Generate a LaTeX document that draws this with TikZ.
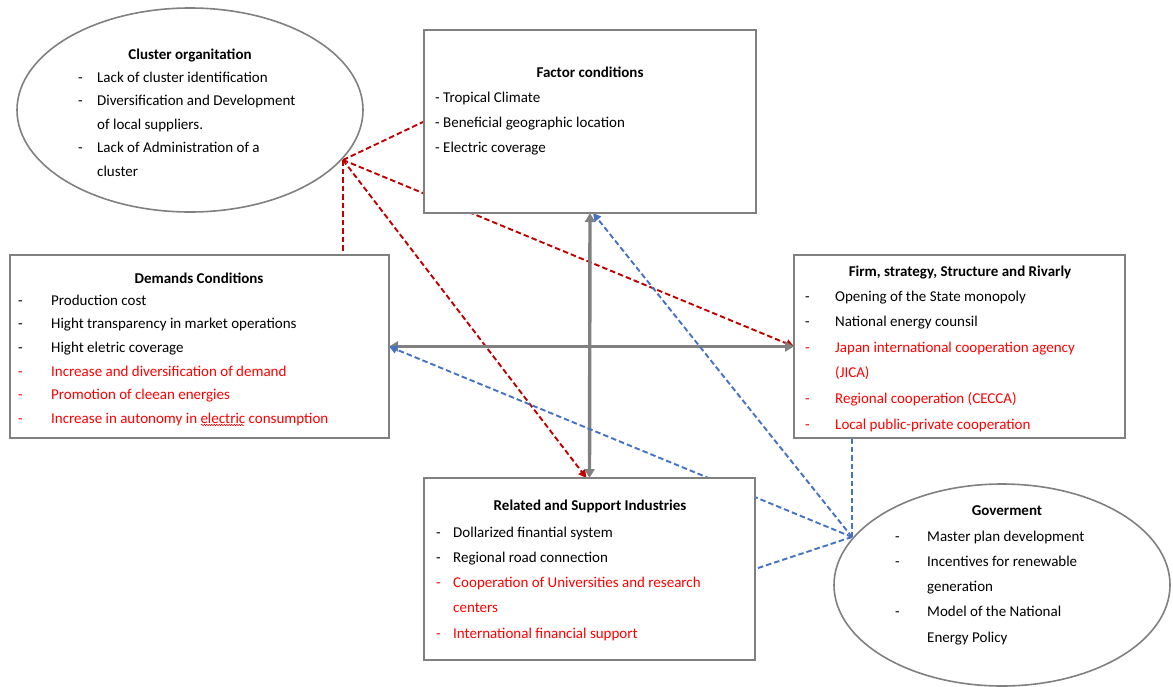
\documentclass[tikz,border=0pt]{standalone}
\usepackage{fontspec}
\setmainfont{Carlito}
\usetikzlibrary{arrows.meta,shapes.geometric,backgrounds,decorations.pathmorphing}
\definecolor{boxgray}{RGB}{128,128,128}
\definecolor{lred}{RGB}{192,0,0}
\definecolor{tred}{RGB}{255,0,0}
\definecolor{lblue}{RGB}{68,114,196}
\newcommand{\rtx}[1]{\textcolor{tred}{#1}}
\tikzset{
  box/.style={draw=boxgray, line width=1.9pt, fill=white, rectangle, inner sep=0pt, outer sep=0pt},
  oval/.style={draw=boxgray, line width=1.6pt, fill=white, ellipse, inner sep=0pt, outer sep=0pt},
  ttl/.style={font=\fontsize{15}{18}\selectfont\bfseries, inner sep=0pt, anchor=base},
  lst/.style={anchor=north west, inner sep=0pt, align=left},
  redcon/.style={draw=lred, line width=1.9pt, dash pattern=on 5.5pt off 3pt},
  bluecon/.style={draw=lblue, line width=1.9pt, dash pattern=on 5.5pt off 3pt},
  graycon/.style={draw=boxgray, line width=3.4pt, {Triangle[width=10pt,length=9pt]}-{Triangle[width=10pt,length=9pt]}},
}
\begin{document}
\begin{tikzpicture}[x=1pt,y=-1pt]
\useasboundingbox (0,0) rectangle (1173,686);

% shapes
\node[oval, minimum width=346pt, minimum height=204pt] (clu) at (190,110) {};
\node[oval, minimum width=336pt, minimum height=202pt] (gov) at (1002,585) {};
\node[box, minimum width=332pt, minimum height=183pt] (fac) at (590,121.5) {};
\node[box, minimum width=379pt, minimum height=183pt] (dem) at (199.5,346.5) {};
\node[box, minimum width=331pt, minimum height=183pt] (firm) at (959.5,346.5) {};
\node[box, minimum width=331pt, minimum height=182pt] (rel) at (589.5,569) {};

\coordinate (cp) at (343,160);
\coordinate (gp) at (852,537);

% connectors
\begin{pgfonlayer}{background}
  \draw[redcon] (cp) -- (fac.west);
  \draw[redcon] (cp) -- (cp |- dem.north);
  \draw[redcon, -{Triangle[width=8pt,length=8pt]}] (cp) -- (firm.west);
  \draw[redcon, -{Triangle[width=8pt,length=8pt]}] (cp) -- ([xshift=-3pt]rel.north);
  \draw[graycon] (dem.east) -- (firm.west);
  \draw[graycon] (fac.south) -- (rel.north);
  \draw[bluecon, -{Triangle[width=8pt,length=8pt]}] (gp) -- ([xshift=3pt]fac.south);
  \draw[bluecon, -{Triangle[width=8pt,length=8pt]}] (gp) -- (dem.east);
  \draw[bluecon] (gp) -- (rel.east);
  \draw[bluecon] (gp) -- (gp |- firm.south);
\end{pgfonlayer}

% Cluster organitation
\node[ttl] (cluT) at (190,59) {Cluster organitation};
\node[lst, font=\fontsize{15}{23.5}\selectfont] (cluL) at (78,65.5) {%
\begin{tabular}{@{}p{19pt}@{}l@{}}
- & Lack of cluster identification\\
- & Diversification and Development\\
  & of local suppliers.\\
- & Lack of Administration of a\\
  & cluster
\end{tabular}};

% Factor conditions
\node[ttl] (facT) at (590,77) {Factor conditions};
\node[lst, font=\fontsize{15}{25}\selectfont] (facL) at (435,84.5) {%
\begin{tabular}{@{}l@{}}
- Tropical Climate\\
- Beneficial geographic location\\
- Electric coverage
\end{tabular}};

% Demands conditions
\node[ttl] (demT) at (199,283) {Demands Conditions};
\node[lst, font=\fontsize{15}{23.6}\selectfont] (demL) at (18,288.5) {%
\begin{tabular}{@{}p{33pt}@{}l@{}}
- & Production cost\\
- & Hight transparency in market operations\\
- & Hight eletric coverage\\
\rtx{-} & \rtx{Increase and diversification of demand}\\
\rtx{-} & \rtx{Promotion of cleean energies}\\
\rtx{-} & \rtx{Increase in autonomy in electric consumption}
\end{tabular}};
\draw[tred, line width=0.5pt, decorate, decoration={snake, amplitude=0.8pt, segment length=2.5pt}] (201,425) -- (244,425);

% Firm, strategy
\node[ttl] (firmT) at (960,276) {Firm, strategy, Structure and Rivarly};
\node[lst, font=\fontsize{15}{25.6}\selectfont] (firmL) at (805,283) {%
\begin{tabular}{@{}p{30pt}@{}l@{}}
- & Opening of the State monopoly\\
- & National energy counsil\\
\rtx{-} & \rtx{Japan international cooperation agency}\\
 & \rtx{(JICA)}\\
\rtx{-} & \rtx{Regional cooperation (CECCA)}\\
\rtx{-} & \rtx{Local public-private cooperation}
\end{tabular}};

% Related and support
\node[ttl] (relT) at (590,510) {Related and Support Industries};
\node[lst, font=\fontsize{15}{25.25}\selectfont] (relL) at (436,519.3) {%
\begin{tabular}{@{}p{17pt}@{}l@{}}
- & Dollarized finantial system\\
- & Regional road connection\\
\rtx{-} & \rtx{Cooperation of Universities and research}\\
 & \rtx{centers}\\
\rtx{-} & \rtx{International financial support}
\end{tabular}};

% Government
\node[ttl] (govT) at (1007,515) {Goverment};
\node[lst, font=\fontsize{15}{25.25}\selectfont] (govL) at (895,523.3) {%
\begin{tabular}{@{}p{32pt}@{}l@{}}
- & Master plan development\\
- & Incentives for renewable\\
  & generation\\
- & Model of the National\\
  & Energy Policy
\end{tabular}};
\end{tikzpicture}
\end{document}
